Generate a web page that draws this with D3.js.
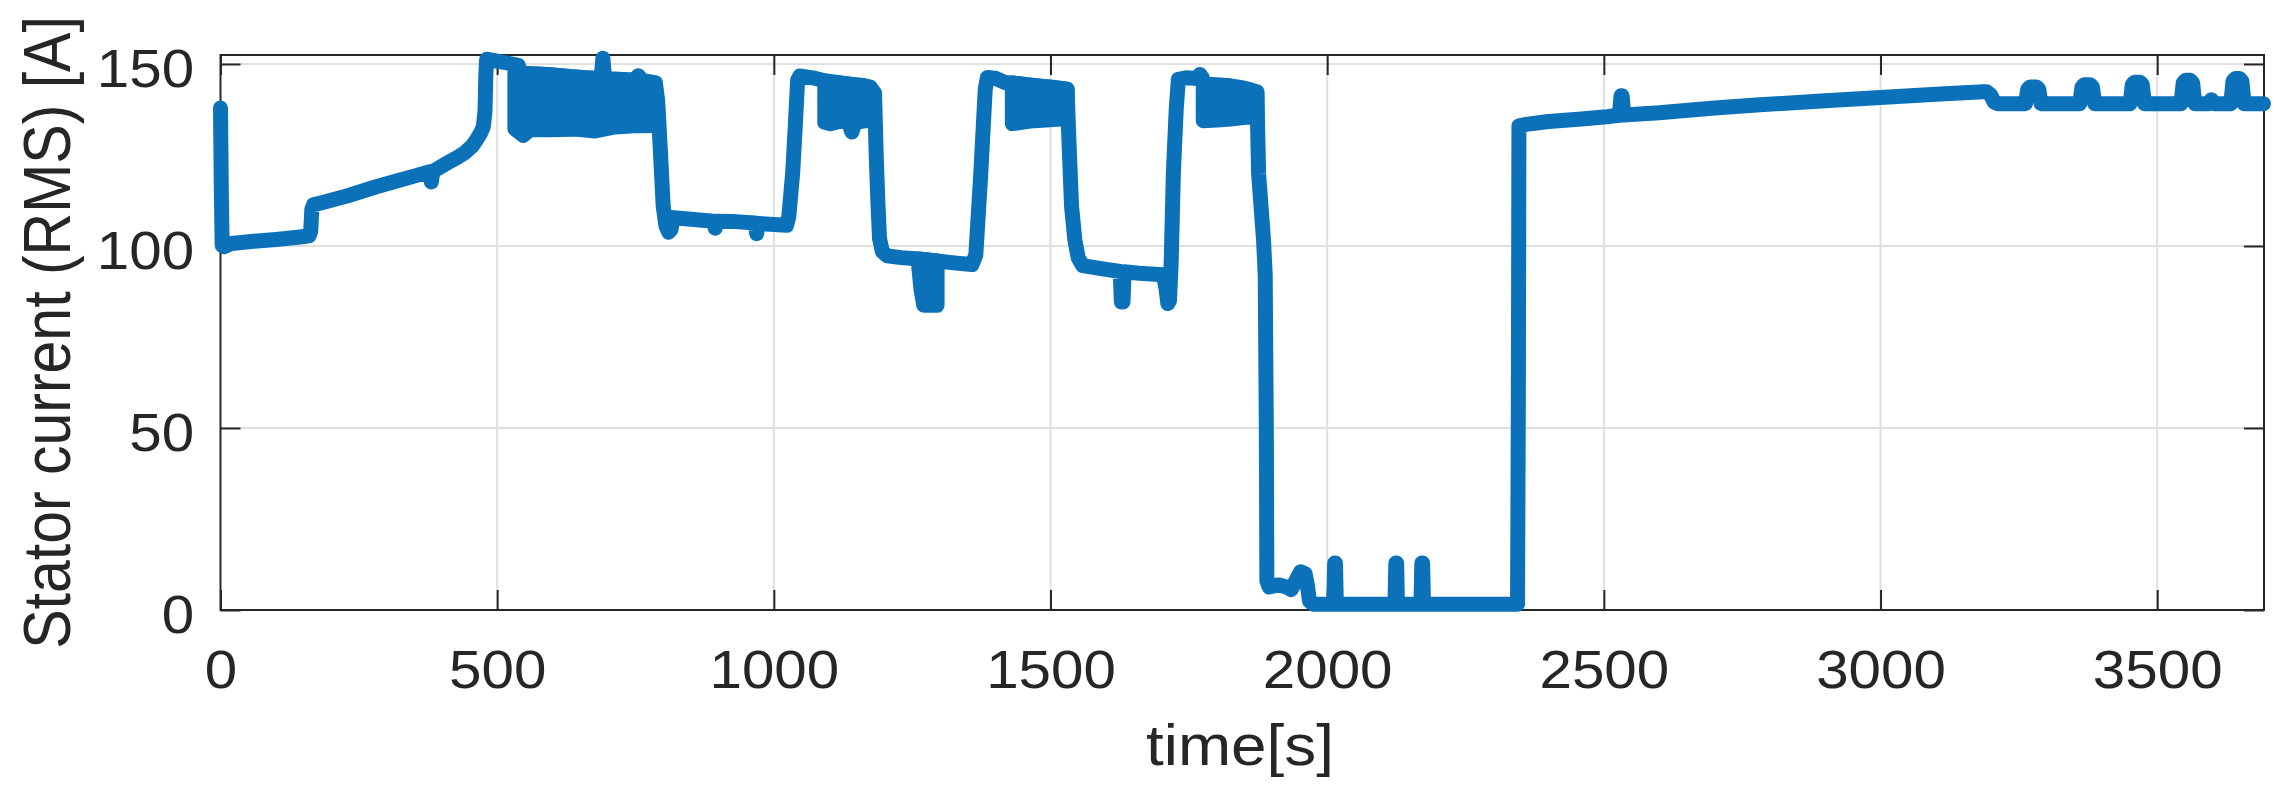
<!DOCTYPE html>
<html><head><meta charset="utf-8">
<script src="https://cdn.jsdelivr.net/npm/d3@7"></script>
<style>
html,body{margin:0;padding:0;background:#fff;}
svg{display:block;}
text{font-family:"Liberation Sans",Arial,Helvetica,sans-serif;fill:#262626;}
</style>
</head><body>
<svg id="chart" width="2290" height="812"></svg>
<script>
// ---- data ----
const timeS = [0,1.5,3,6,20,60,100,140,160,163,165,168,183,230,280,315,350,378,381,384,412,430,442,455,462,470,475,478,479.5,481,500,520,538,542,600,660,688,691,694,720,786,790,794,800,805,810,814,818,840,891,894,897,930,966,969,972,1000,1023,1027,1034,1039,1043,1047,1070,1092,1174,1182,1185,1188,1191,1196,1205,1230,1263,1295,1330,1358,1365,1374,1382,1386,1400,1418,1431,1530,1533,1538,1544,1550,1558,1600,1626,1628,1631,1633,1660,1704,1709,1712,1715,1718,1722,1727,1731,1745,1766,1770,1774,1776,1873,1876,1885,1888,1890,1891,1895,1912,1925,1935,1945,1952,1960,1964,1968,1975,2012,2013.5,2015,2016.5,2122.5,2124,2125.5,2127,2169.5,2171,2172.5,2174,2344,2345.5,2346.5,2360,2400,2460,2505,2528,2531,2533,2536,2600,2700,2782,2900,3000,3100,3186,3192,3199,3205,3212,3262,3266,3270,3282,3286,3290,3360,3364,3368,3379,3383,3387,3451,3455,3459,3469,3473,3477,3543,3547,3551,3560,3564,3568,3592,3598,3604,3633,3637,3641,3649,3653,3657,3692];
const currentA = [137.9,115,100.2,99.8,100.7,101.3,101.8,102.4,102.8,104,110,111.3,111.9,113.8,116.2,117.7,119.2,120.4,117.6,120.5,123,124.5,125.7,127.5,129,131,132.8,137,147,151.3,150.8,150.2,149.6,147.5,147.0,146.2,146.0,151.6,146.0,145.8,144.8,140,129,111,105.5,103.8,104.5,107.8,107.5,106.8,104.9,106.8,106.7,106.3,103.4,106.2,105.9,105.7,108,120,133.7,145.6,146.7,146.2,145.4,143.6,142,125,112,102,98.5,97.3,96.8,96.4,95.9,95.3,94.9,97.5,120,143,146.3,146.1,144.9,144.8,143.1,130,111,101.6,96.8,94.6,93.6,93,84.6,84.6,92.9,92.5,92.1,88,84.2,85,95,120,137,145.8,146.2,146.0,147.1,146.3,144.5,142.3,120,101.6,92,50,8,6.3,6.9,6.4,5.6,8.5,10.5,10.0,7,2.5,1.6,1.6,12.9,12.9,1.6,1.6,12.9,12.9,1.6,1.6,12.9,12.9,1.6,1.6,60,133,133.4,134.2,134.9,135.5,135.9,141.3,141.3,136,136.6,137.9,138.8,139.9,140.8,141.7,142.4,142.4,141.5,139.6,139.1,139.1,143,143.7,143.7,143,139.1,139.1,143.6,144.3,144.3,143.6,139.1,139.1,144.3,145.0,145.0,144.3,139.1,139.1,144.8,145.5,145.5,144.8,139.1,139.1,140.2,139.1,139.1,145.3,146.0,146.0,145.3,139.1,139.1];

// rapid-oscillation bands: [time, low envelope, high envelope]
const band1 = [[532,132.2,147.6],[547,130.4,147.5],[560,132.0,147.3],[592,131.9,147.1],[640,132.1,146.4],[677,131.6,146.0],[713,132.7,145.8],[748,133.0,145.6],[755,133.0,146.8],[762,133.0,145.5],[786,133.1,144.8]];
const band2 = [[1092,134.0,145.2],[1102,133.6,145.0],[1120,134.3,144.8],[1135,134.0,144.5],[1141,131.3,144.4],[1147,134.0,144.3],[1162,134.3,144.1],[1174,134.5,143.6]];
const band3 = [[1262,94.0,96.4],[1266,88.0,96.4],[1271,83.7,96.3],[1295,83.7,95.9]];
const band4 = [[1431,133.6,144.8],[1463,134.3,144.1],[1499,134.7,143.7],[1530,135.0,143.1]];
const band5 = [[1776,134.4,144.5],[1800,134.6,144.3],[1825,134.9,144.0],[1845,135.2,143.5],[1860,135.4,143.0],[1873,135.5,142.3]];

const xTicks = [0,500,1000,1500,2000,2500,3000,3500];
const yTicks = [0,50,100,150];
const xLabel = "time[s]";
const yLabel = "Stator current (RMS) [A]";

// ---- layout ----
const W = 2290, H = 812;
const P = {left:220.5, right:2264, top:55, bottom:610};
const ink = "#262626", lineColor = "#0b72ba", gridColor = "#dfdfdf";
const stretch = 1.1; // glyphs in the reference are slightly wide
const svg = d3.select("#chart");
svg.append("rect").attr("width",W).attr("height",H).attr("fill","#fff");

const x = d3.scaleLinear().domain([0,3693]).range([P.left,P.right]);
const y = d3.scaleLinear().domain([0,152.47]).range([P.bottom,P.top]);

// grid
const grid = svg.append("g");
grid.selectAll(".gx").data(xTicks.filter(d=>d>0)).join("line")
  .attr("x1",d=>x(d)).attr("x2",d=>x(d)).attr("y1",P.top).attr("y2",P.bottom)
  .attr("stroke",gridColor).attr("stroke-width",2);
grid.selectAll(".gy").data(yTicks.filter(d=>d>0)).join("line")
  .attr("y1",d=>y(d)).attr("y2",d=>y(d)).attr("x1",P.left).attr("x2",P.right)
  .attr("stroke",gridColor).attr("stroke-width",2);

// axes
function styleAxis(g){
  g.select(".domain").remove();
  g.selectAll(".tick line").attr("stroke",ink).attr("stroke-width",2);
  g.selectAll(".tick text").attr("fill",ink).style("font-size","53px")
   .style("font-family",'"Liberation Sans",Arial,Helvetica,sans-serif');
}
const gb = svg.append("g").attr("transform",`translate(0,${P.bottom})`)
  .call(d3.axisBottom(x).tickValues(xTicks).tickSize(-20).tickPadding(40).tickFormat(d3.format("d"))).call(styleAxis);
gb.selectAll(".tick text").attr("transform",`scale(${stretch},1)`);
svg.append("g").attr("transform",`translate(0,${P.top})`)
  .call(d3.axisTop(x).tickValues(xTicks).tickSize(-20).tickFormat("")).call(styleAxis);
const gl = svg.append("g").attr("transform",`translate(${P.left},0)`)
  .call(d3.axisLeft(y).tickValues(yTicks).tickSize(-20).tickPadding(24).tickFormat(d3.format("d"))).call(styleAxis);
gl.selectAll(".tick text").attr("dy","0.42em").attr("transform",`scale(${stretch},1)`);
svg.append("g").attr("transform",`translate(${P.right},0)`)
  .call(d3.axisRight(y).tickValues(yTicks).tickSize(-20).tickFormat("")).call(styleAxis);

svg.append("rect").attr("x",P.left).attr("y",P.top)
  .attr("width",P.right-P.left).attr("height",P.bottom-P.top)
  .attr("fill","none").attr("stroke",ink).attr("stroke-width",2);

// data
const data = timeS.map((t,i)=>[t,currentA[i]]);
const area = d3.area().x(d=>x(d[0])).y0(d=>y(d[1])).y1(d=>y(d[2]));
const lw = 15;
[band1,band2,band3,band4,band5].forEach(b=>{
  svg.append("path").attr("d",area(b)).attr("fill",lineColor)
    .attr("stroke",lineColor).attr("stroke-width",lw).attr("stroke-linejoin","round");
});
svg.append("path").datum(data)
  .attr("d",d3.line().x(d=>x(d[0])).y(d=>y(d[1])))
  .attr("fill","none").attr("stroke",lineColor).attr("stroke-width",lw)
  .attr("stroke-linejoin","round").attr("stroke-linecap","round");

// labels
svg.append("text").attr("transform",`translate(1240,765) scale(${stretch},1)`)
  .attr("text-anchor","middle").style("font-size","58px").text(xLabel);
svg.append("text").attr("transform",`translate(70,${(P.top+P.bottom)/2}) scale(${stretch+0.03},1) rotate(-90)`)
  .attr("text-anchor","middle").style("font-size","59px").text(yLabel);
</script>
</body></html>
